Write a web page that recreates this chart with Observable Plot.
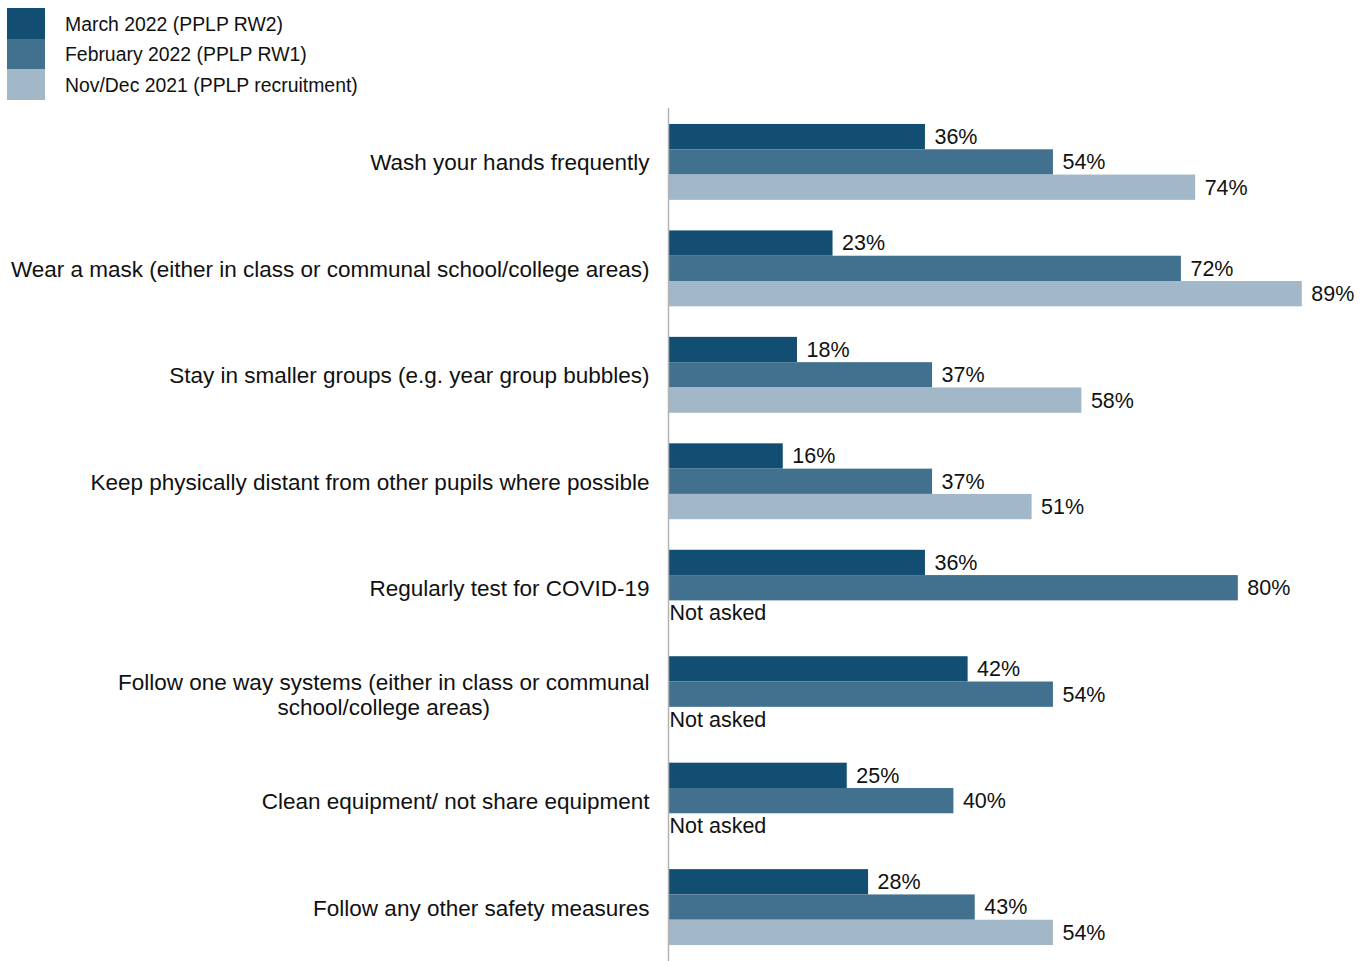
<!DOCTYPE html>
<html>
<head>
<meta charset="utf-8">
<script src="https://cdn.jsdelivr.net/npm/d3@7"></script>
<script src="https://cdn.jsdelivr.net/npm/@observablehq/plot@0.6"></script>
<style>
  body { margin: 0; background: #fff; font-family: "Liberation Sans", Arial, sans-serif; color: #111; }
  #legend { padding: 8px 0 0 7px; height: 96px; box-sizing: border-box; }
  .item { display: flex; align-items: center; height: 30.5px; }
  .sw { width: 38px; height: 30.5px; margin-right: 20px; }
  .lbl { font-size: 19.4px; padding-top: 2px; }
  #chart { margin-top: 6px; }
</style>
</head>
<body>
<div id="legend"></div>
<div id="chart"></div>
<script>
const categories = [
  "Wash your hands frequently",
  "Wear a mask (either in class or communal school/college areas)",
  "Stay in smaller groups (e.g. year group bubbles)",
  "Keep physically distant from other pupils where possible",
  "Regularly test for COVID-19",
  "Follow one way systems (either in class or communal\nschool/college areas)",
  "Clean equipment/ not share equipment",
  "Follow any other safety measures"
];
const seriesNames = ["March 2022 (PPLP RW2)", "February 2022 (PPLP RW1)", "Nov/Dec 2021 (PPLP recruitment)"];
const seriesColors = ["#124e72", "#41718f", "#a2b8c8"];
const march2022 = [36, 23, 18, 16, 36, 42, 25, 28];
const feb2022 = [54, 72, 37, 37, 80, 54, 40, 43];
const novdec2021 = [74, 89, 58, 51, null, null, null, 54];
const notAskedLabel = "Not asked";

const seriesValues = [march2022, feb2022, novdec2021];
const rows = [];
categories.forEach((c, i) => {
  seriesNames.forEach((s, j) => {
    rows.push({category: c, series: s, value: seriesValues[j][i]});
  });
});
const asked = rows.filter(d => d.value != null);
const notAsked = rows.filter(d => d.value == null);

// legend
const legend = document.getElementById("legend");
seriesNames.forEach((s, j) => {
  const it = document.createElement("div");
  it.className = "item";
  it.innerHTML = `<div class="sw" style="background:${seriesColors[j]}"></div><div class="lbl">${s}</div>`;
  legend.appendChild(it);
});

const chart = Plot.plot({
  width: 1372,
  height: 859,
  marginTop: 6,
  marginBottom: 0,
  marginLeft: 669,
  marginRight: 0,
  style: {fontFamily: '"Liberation Sans", Arial, sans-serif', color: "#111", background: "#fff"},
  x: {domain: [0, 100], range: [669, 1380], axis: null},
  y: {domain: seriesNames, padding: 0, round: false, axis: null},
  fy: {domain: categories, paddingInner: 0.287, paddingOuter: 0.15, round: false, label: null},
  color: {domain: seriesNames, range: seriesColors},
  marks: [
    Plot.axisFy({anchor: "left", tickSize: 0, tickPadding: 20, fontSize: 22.5, label: null, lineAnchor: "middle", lineHeight: 1.12}),
    Plot.barX(asked, {x: "value", y: "series", fy: "category", fill: "series"}),
    Plot.text(asked, {x: "value", y: "series", fy: "category", text: d => d.value + "%", textAnchor: "start", dx: 9, fontSize: 21.5, fill: "#111"}),
    Plot.text(notAsked, {x: 0, y: "series", fy: "category", text: () => notAskedLabel, textAnchor: "start", dx: 0, fontSize: 21.5, fill: "#111"})
  ]
});
document.getElementById("chart").appendChild(chart);

// vertical axis line at x = 0 across the whole plot
const svg = d3.select(chart.tagName === "svg" ? chart : chart.querySelector("svg"));
const x0 = chart.scale("x").apply(0) - 0.5;
svg.append("line")
  .attr("x1", x0).attr("x2", x0)
  .attr("y1", 6).attr("y2", 859)
  .attr("stroke", "#b3b3b3").attr("stroke-width", 1.5);

// center multi-line category labels like the original
svg.selectAll("text").each(function() {
  const tspans = this.querySelectorAll("tspan");
  if (tspans.length > 1) {
    const w = this.getBBox().width;
    this.setAttribute("text-anchor", "middle");
    tspans.forEach(t => t.setAttribute("x", -w / 2));
  }
});
</script>
</body>
</html>
